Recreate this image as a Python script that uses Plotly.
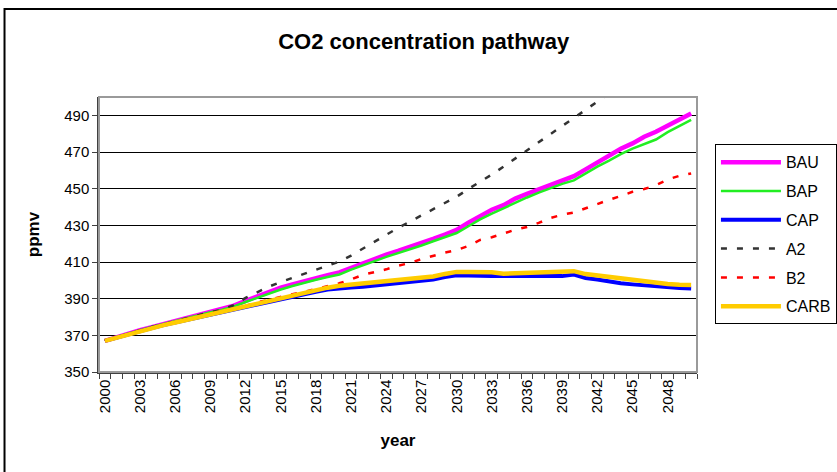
import plotly.graph_objects as go

years = list(range(2000, 2051))

bau = [367.0, 369.0, 371.2, 372.8, 374.5, 376.2, 377.8, 379.4, 381.0, 382.6,
       384.2, 386.2, 388.8, 391.3, 393.7, 396.0, 397.8, 399.6, 401.3, 402.8,
       404.3, 406.8, 409.3, 411.6, 414.0, 416.0, 418.0, 420.2, 422.6, 425.0,
       427.5, 431.5, 435.3, 438.5, 441.0, 444.6, 447.2, 449.7, 452.0, 454.5,
       456.8, 460.5, 464.5, 468.3, 471.8, 474.7, 478.3, 481.0, 484.5, 488.0,
       491.0]

bap = [367.0, 369.0, 371.2, 372.8, 374.5, 376.2, 377.8, 379.4, 381.0, 382.6,
       384.0, 385.8, 388.2, 390.5, 392.8, 395.0, 396.9, 398.7, 400.3, 401.8,
       403.2, 405.8, 408.3, 410.5, 412.8, 414.8, 416.8, 419.0, 421.3, 423.5,
       425.8, 429.5, 433.2, 436.4, 439.3, 442.5, 445.2, 447.8, 450.2, 452.6,
       454.5, 458.3, 462.0, 465.3, 468.8, 471.8, 474.5, 476.8, 480.8, 484.3,
       487.5]

cap = [367.0, 368.8, 370.8, 372.4, 374.0, 375.6, 377.0, 378.5, 380.0, 381.5,
       383.0, 384.2, 385.6, 386.8, 388.3, 389.6, 391.0, 392.4, 393.8, 395.0,
       395.8, 396.1, 396.5, 397.1, 397.8, 398.5, 399.2, 399.8, 400.5, 401.8,
       402.8, 402.6, 402.3, 402.3, 402.3, 402.3, 402.3, 402.3, 402.3, 402.3,
       403.2, 401.3, 400.4, 399.3, 398.4, 397.8, 397.2, 396.8, 396.3, 395.8,
       395.6]

a2 = [367.0, 369.0, 371.2, 372.8, 374.5, 376.2, 377.8, 379.4, 381.0, 382.6,
      384.0, 386.5, 390.4, 393.5, 396.6, 399.1, 401.3, 403.8, 406.0, 408.1,
      410.2, 413.5, 417.3, 421.2, 425.1, 428.6, 432.0, 435.4, 438.5, 441.8,
      445.6, 449.8, 453.7, 457.7, 462.0, 466.5, 471.0, 475.5, 479.8, 484.2,
      488.5, 493.0, 497.5, 502.0]

b2 = [367.0, 369.0, 371.0, 372.6, 374.2, 375.8, 377.3, 378.8, 380.3, 381.8,
      383.3, 384.6, 386.0, 388.0, 389.6, 391.0, 392.4, 393.7, 395.2, 396.7,
      398.4, 400.5, 403.0, 404.5, 406.0, 408.0, 409.4, 411.6, 413.5, 415.1,
      416.5, 418.8, 422.0, 423.5, 425.5, 427.6, 429.1, 431.3, 434.0, 435.8,
      437.0, 439.3, 441.9, 443.9, 446.0, 448.3, 449.8, 451.9, 455.0, 457.0,
      458.3]

carb = [367.0, 368.8, 370.8, 372.4, 374.0, 375.6, 377.0, 378.5, 380.0, 381.5,
        383.0, 384.2, 385.6, 387.3, 389.0, 390.5, 392.0, 393.4, 394.8, 396.0,
        397.0, 397.6, 398.0, 398.6, 399.3, 400.0, 400.7, 401.4, 402.1, 403.5,
        404.6, 404.6, 404.6, 404.4, 403.6, 403.8, 404.5, 404.5, 404.5, 404.5,
        405.0, 403.4, 402.6, 401.8, 401.0, 400.2, 399.4, 398.7, 398.0, 397.6,
        397.5]

x_ticks = list(range(2000, 2049, 3))
y_ticks = list(range(350, 491, 20))

series = [
    ("BAU", bau, "#FF00FF", 4.5, "solid"),
    ("BAP", bap, "#22EE22", 2.5, "solid"),
    ("CAP", cap, "#0000FF", 4, "solid"),
    ("A2", a2, "#333333", 2.5, "6px,10px"),
    ("B2", b2, "#FF0000", 2.5, "6px,10px"),
    ("CARB", carb, "#FFCC00", 4.5, "solid"),
]

FONT = "Liberation Sans, Arial, sans-serif"

fig = go.Figure()
for i, (name, vals, color, width, dash) in enumerate(series):
    fig.add_trace(go.Scatter(
        x=years[:len(vals)], y=vals, name=name, mode="lines",
        line=dict(color=color, width=width, dash=dash),
        legendgroup=f"g{i}",
    ))

# chart frame and plot-area frame
fig.add_shape(type="rect", xref="paper", yref="paper",
              x0=-0.158, x1=1.5, y0=-0.6, y1=1.32,
              line=dict(color="#000000", width=2), layer="below")
fig.add_shape(type="rect", xref="paper", yref="paper",
              x0=0, x1=1, y0=0, y1=1,
              line=dict(color="#9a9a9a", width=2), layer="above")

fig.update_layout(
    width=837, height=472,
    margin=dict(l=99, r=140, t=97, b=100, autoexpand=False),
    paper_bgcolor="white", plot_bgcolor="white",
    font=dict(family=FONT, size=15, color="#000000"),
    title=dict(text="<b>CO2 concentration pathway</b>", x=0.543, xref="paper",
               xanchor="center", y=0.913, yanchor="middle",
               font=dict(size=22, family=FONT)),
    showlegend=True,
    legend=dict(x=1.03, y=0.828, xanchor="left", yanchor="top",
                bordercolor="#000000", borderwidth=1, bgcolor="white",
                font=dict(size=16, family=FONT), tracegroupgap=5,
                itemwidth=60, entrywidth=112),
    xaxis=dict(
        range=[1999.5, 2050.5], tickvals=x_ticks,
        ticktext=[str(v) for v in x_ticks], tickangle=-90,
        ticks="", showgrid=False, zeroline=False,
        showline=True, linecolor="#404040", linewidth=1.5,
        tickfont=dict(size=15, family=FONT),
        minor=dict(tick0=1999.5, dtick=1, ticks="outside", ticklen=5,
                   tickcolor="#404040", showgrid=False),
        title=dict(text="<b>year</b>", font=dict(size=17, family=FONT),
                   standoff=22),
    ),
    yaxis=dict(
        range=[350, 500], tickvals=y_ticks, ticks="outside", ticklen=5,
        tickcolor="#404040", showgrid=True, gridcolor="#000000", gridwidth=1,
        zeroline=False, showline=True, linecolor="#404040", linewidth=1.5,
        tickfont=dict(size=15, family=FONT),
        title=dict(text="<b>ppmv</b>", font=dict(size=17, family=FONT),
                   standoff=20),
    ),
)

fig.write_html("out.html")
